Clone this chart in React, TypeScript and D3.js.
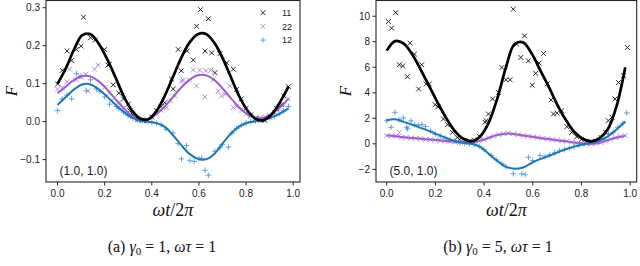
import React from "react";
import * as d3 from "d3";

// phase grid used by the fitted curves
const phase = [0, 0.035, 0.07, 0.105, 0.14, 0.175, 0.21, 0.245, 0.28, 0.315, 0.35, 0.385, 0.42, 0.455, 0.49,
  0.525, 0.56, 0.595, 0.63, 0.665, 0.7, 0.735, 0.77, 0.805, 0.84, 0.875, 0.91, 0.945, 0.98];

// (a) gamma0 = 1 : fitted curves
const fitA11 = [0.1, 0.14, 0.19, 0.228, 0.23, 0.205, 0.165, 0.118, 0.068, 0.03, 0.008, 0.006, 0.028, 0.068, 0.118,
  0.168, 0.208, 0.23, 0.231, 0.208, 0.168, 0.118, 0.068, 0.03, 0.008, 0.004, 0.02, 0.052, 0.092];
const fitA22 = [0.075, 0.092, 0.11, 0.12, 0.119, 0.106, 0.085, 0.06, 0.036, 0.016, 0.005, 0.006, 0.02, 0.04, 0.065,
  0.09, 0.11, 0.122, 0.122, 0.11, 0.088, 0.062, 0.038, 0.02, 0.01, 0.01, 0.02, 0.038, 0.06];
const fitA12 = [0.044, 0.065, 0.085, 0.098, 0.098, 0.085, 0.066, 0.045, 0.026, 0.011, 0.003, 0.0, -0.004, -0.014, -0.036,
  -0.062, -0.085, -0.098, -0.099, -0.085, -0.058, -0.032, -0.013, -0.003, 0.001, 0.005, 0.012, 0.022, 0.035];

// (b) gamma0 = 5 : fitted curves
const fitB11 = [7.3, 8.05, 7.85, 7.0, 5.8, 4.5, 3.2, 2.0, 1.0, 0.4, 0.2, 0.6, 1.7, 3.6, 6.0,
  7.8, 7.95, 7.1, 5.8, 4.5, 3.1, 1.9, 0.95, 0.4, 0.2, 0.45, 1.2, 3.0, 6.0];
const fitB22 = [0.65, 0.6, 0.52, 0.46, 0.4, 0.34, 0.29, 0.22, 0.15, 0.12, 0.13, 0.25, 0.48, 0.7, 0.8,
  0.76, 0.66, 0.56, 0.46, 0.37, 0.28, 0.2, 0.1, 0.03, 0.0, 0.08, 0.3, 0.5, 0.62];
const fitB12 = [1.85, 1.92, 1.72, 1.5, 1.25, 1.0, 0.72, 0.45, 0.22, 0.08, 0.0, -0.25, -0.8, -1.35, -1.8,
  -1.95, -1.85, -1.5, -1.2, -0.95, -0.68, -0.42, -0.22, -0.05, 0.1, 0.25, 0.6, 1.15, 1.75];

// simulated points [phase, F]
const ptsA11 = [[0, 0.099], [0.02, 0.135], [0.04, 0.186], [0.06, 0.161], [0.08, 0.19], [0.1, 0.199], [0.11, 0.275],
  [0.14, 0.221], [0.16, 0.215], [0.2, 0.19], [0.214, 0.149], [0.22, 0.151], [0.236, 0.097], [0.26, 0.075], [0.28, 0.06],
  [0.3, 0.046], [0.306, 0.029], [0.32, 0.018], [0.34, 0.005], [0.36, 0.003], [0.38, 0.002], [0.4, 0.012], [0.42, 0.029],
  [0.44, 0.04], [0.455, 0.05], [0.484, 0.112], [0.491, 0.086], [0.512, 0.19], [0.525, 0.134], [0.55, 0.186], [0.576, 0.162],
  [0.59, 0.251], [0.607, 0.295], [0.626, 0.186], [0.64, 0.271], [0.654, 0.181], [0.668, 0.129], [0.689, 0.179],
  [0.718, 0.155], [0.746, 0.138], [0.76, 0.085], [0.78, 0.06], [0.8, 0.035], [0.82, 0.018], [0.84, 0.008], [0.86, 0.004],
  [0.88, 0.003], [0.9, 0.012], [0.93, 0.034], [0.95, 0.045], [0.96, 0.068], [0.98, 0.092]];
const ptsA22 = [[0, 0.085], [0.02, 0.09], [0.04, 0.105], [0.051, 0.138], [0.08, 0.11], [0.1, 0.118], [0.12, 0.125],
  [0.129, 0.081], [0.157, 0.138], [0.172, 0.149], [0.2, 0.09], [0.22, 0.075], [0.24, 0.062], [0.26, 0.05], [0.28, 0.036],
  [0.3, 0.025], [0.32, 0.014], [0.34, 0.007], [0.36, 0.004], [0.38, 0.006], [0.4, 0.012], [0.42, 0.02], [0.44, 0.03],
  [0.462, 0.037], [0.48, 0.055], [0.498, 0.068], [0.526, 0.107], [0.533, 0.109], [0.56, 0.11], [0.576, 0.136],
  [0.59, 0.094], [0.604, 0.135], [0.626, 0.065], [0.63, 0.134], [0.65, 0.135], [0.66, 0.11], [0.682, 0.081],
  [0.696, 0.068], [0.71, 0.072], [0.732, 0.094], [0.746, 0.037], [0.76, 0.04], [0.78, 0.03], [0.8, 0.02], [0.82, 0.014],
  [0.84, 0.01], [0.86, 0.01], [0.88, 0.012], [0.9, 0.016], [0.92, 0.025], [0.94, 0.035], [0.96, 0.045], [0.98, 0.06]];
const ptsA12 = [[0, 0.029], [0.02, 0.06], [0.04, 0.07], [0.06, 0.06], [0.08, 0.126], [0.1, 0.12], [0.122, 0.081],
  [0.14, 0.11], [0.165, 0.086], [0.18, 0.08], [0.2, 0.065], [0.221, 0.046], [0.25, 0.04], [0.26, 0.035], [0.28, 0.025],
  [0.3, 0.016], [0.32, 0.009], [0.34, 0.004], [0.36, 0.002], [0.38, 0.0], [0.4, -0.002], [0.42, -0.004], [0.44, -0.008],
  [0.46, -0.02], [0.49, -0.03], [0.512, -0.058], [0.526, -0.098], [0.547, -0.063], [0.562, -0.102], [0.58, -0.105],
  [0.6, -0.097], [0.612, -0.096], [0.626, -0.128], [0.64, -0.141], [0.668, -0.078], [0.689, -0.069], [0.7, -0.06],
  [0.725, -0.067], [0.74, -0.03], [0.76, -0.018], [0.78, -0.01], [0.8, -0.004], [0.82, 0.0], [0.84, 0.002], [0.86, 0.004],
  [0.88, 0.006], [0.9, 0.01], [0.92, 0.014], [0.94, 0.02], [0.96, 0.028], [0.98, 0.04]];

const ptsB11 = [[0.007, 9.58], [0.02, 9.06], [0.037, 10.28], [0.052, 6.2], [0.066, 6.1], [0.085, 5.26], [0.096, 7.89],
  [0.114, 7.03], [0.131, 4.3], [0.144, 6.2], [0.162, 4.69], [0.175, 4.69], [0.199, 3.07], [0.21, 2.9], [0.233, 1.95],
  [0.25, 1.5], [0.27, 0.9], [0.29, 0.5], [0.3, 0.35], [0.32, 0.25], [0.34, 0.2], [0.36, 0.3], [0.38, 0.6], [0.404, 1.69],
  [0.408, 1.82], [0.418, 2.34], [0.435, 3.52], [0.459, 4.03], [0.473, 5.98], [0.49, 5.02], [0.507, 5.02], [0.52, 10.55],
  [0.534, 7.81], [0.551, 6.77], [0.566, 8.46], [0.582, 6.5], [0.598, 4.6], [0.612, 5.52], [0.626, 6.33], [0.644, 7.08],
  [0.66, 4.7], [0.675, 3.44], [0.685, 2.34], [0.7, 2.4], [0.719, 2.6], [0.74, 1.35], [0.76, 0.9], [0.78, 0.55],
  [0.8, 0.35], [0.82, 0.2], [0.84, 0.15], [0.86, 0.2], [0.88, 0.5], [0.9, 0.9], [0.91, 1.82], [0.925, 2.08],
  [0.938, 3.52], [0.952, 4.8], [0.973, 5.34], [0.989, 7.55]];
const ptsB22 = [[0, 0.65], [0.02, 0.62], [0.04, 0.6], [0.052, 0.9], [0.06, 0.5], [0.08, 0.5], [0.1, 0.45], [0.12, 0.42],
  [0.14, 0.4], [0.16, 0.36], [0.18, 0.34], [0.2, 0.3], [0.22, 0.27], [0.24, 0.22], [0.26, 0.18], [0.28, 0.15], [0.3, 0.13],
  [0.32, 0.11], [0.34, 0.12], [0.36, 0.15], [0.38, 0.22], [0.4, 0.33], [0.42, 0.48], [0.44, 0.6], [0.46, 0.72],
  [0.48, 0.8], [0.5, 0.85], [0.52, 0.78], [0.54, 0.72], [0.56, 0.66], [0.58, 0.6], [0.6, 0.55], [0.62, 0.5], [0.64, 0.44],
  [0.66, 0.38], [0.68, 0.33], [0.7, 0.28], [0.72, 0.24], [0.74, 0.2], [0.76, 0.13], [0.78, 0.08], [0.8, 0.04],
  [0.82, 0.01], [0.84, 0.0], [0.86, 0.03], [0.88, 0.1], [0.9, 0.22], [0.92, 0.35], [0.94, 0.48], [0.96, 0.57], [0.98, 0.65]];
const ptsB12 = [[0, 1.8], [0.018, 1.3], [0.034, 2.47], [0.05, 1.9], [0.068, 2.03], [0.082, 1.3], [0.086, 1.17],
  [0.1, 1.8], [0.115, 1.5], [0.13, 1.45], [0.145, 1.5], [0.16, 1.35], [0.18, 1.0], [0.2, 0.75], [0.22, 0.6], [0.24, 0.45],
  [0.26, 0.3], [0.28, 0.2], [0.3, 0.1], [0.32, 0.05], [0.34, 0.0], [0.36, -0.05], [0.38, -0.2], [0.4, -0.45],
  [0.429, -0.91], [0.45, -1.25], [0.473, -1.56], [0.49, -1.8], [0.52, -2.34], [0.555, -2.35], [0.569, -2.42],
  [0.582, -1.05], [0.6, -1.3], [0.63, -0.91], [0.65, -1.0], [0.67, -0.85], [0.69, -0.7], [0.71, -0.55], [0.73, -0.45],
  [0.75, -0.35], [0.77, -0.2], [0.79, -0.1], [0.81, 0.0], [0.83, 0.05], [0.85, 0.15], [0.87, 0.2], [0.89, 0.35],
  [0.911, 0.78], [0.93, 0.9], [0.95, 1.3], [0.97, 1.6], [0.986, 2.42]];

const xTicks = [0, 0.2, 0.4, 0.6, 0.8, 1.0];
const yTicksA = [-0.1, 0, 0.1, 0.2, 0.3];
const yTicksB = [-2, 0, 2, 4, 6, 8, 10];
const legendNames = ["11", "22", "12"];

const BLACK = "#000";
const PURPLE = "#9b5fcf";
const BLUE = "#1f77b4";
const BLUE_PT = "#3d8fd1";
const AXIS = "#262626";
const SANS = "Liberation Sans, Arial, sans-serif";
const SERIF = "Liberation Serif, Times New Roman, DejaVu Serif, serif";

const cross = "M-2.4,-2.4L2.4,2.4M-2.4,2.4L2.4,-2.4";
const plus = "M-2.8,0H2.8M0,-2.8V2.8";

const Panel = ({ left, right, xDom, yDom, yTicks, yFmt, fits, pts, note, legend }) => {
  const top = 0.5, bottom = 182;
  const x = d3.scaleLinear().domain(xDom).range([left, right]);
  const y = d3.scaleLinear().domain(yDom).range([bottom, top]);
  const line = d3.line().x((_, i) => x(phase[i])).y(d => y(d)).curve(d3.curveCatmullRom);
  const xFmt = d3.format(".1f");
  const styles = [
    { c: BLACK, m: cross, w: 2.7, pc: "#111", op: 0.9 },
    { c: PURPLE, m: cross, w: 2, pc: PURPLE, op: 0.7 },
    { c: BLUE, m: plus, w: 2, pc: BLUE_PT, op: 0.8 },
  ];
  const cx = (left + right) / 2;
  return (
    <g>
      {pts.map((s, k) => (
        <g key={"p" + k}>
          {s.map((d, i) => (
            <path key={i} d={styles[k].m} transform={`translate(${x(d[0])},${y(d[1])})`}
              stroke={styles[k].pc} strokeWidth={1} opacity={styles[k].op} fill="none" />
          ))}
        </g>
      ))}
      {[1, 2, 0].map(k => (
        <path key={"l" + k} d={line(fits[k])} fill="none" stroke={styles[k].c} strokeWidth={styles[k].w} />
      ))}
      <rect x={left} y={top} width={right - left} height={bottom - top} fill="none" stroke={AXIS} strokeWidth={1.1} />
      {xTicks.map(t => (
        <g key={"x" + t} transform={`translate(${x(t)},${bottom})`}>
          <line y2={3.5} stroke={AXIS} />
          <text y={15} textAnchor="middle" fontSize={10} style={{ fontFamily: SANS }} fill="#222">{xFmt(t)}</text>
        </g>
      ))}
      {yTicks.map(t => (
        <g key={"y" + t} transform={`translate(${left},${y(t)})`}>
          <line x2={-3.5} stroke={AXIS} />
          <text x={-6} dy="0.35em" textAnchor="end" fontSize={10} style={{ fontFamily: SANS }} fill="#222">{yFmt(t)}</text>
        </g>
      ))}
      <text x={left + 13.5} y={175} fontSize={12} style={{ fontFamily: SANS }} fill="#222">{note}</text>
      <text x={cx} y={216} textAnchor="middle" fontSize={18} style={{ fontFamily: SERIF }} fill="#111">
        <tspan fontStyle="italic">ωt</tspan>/2<tspan fontStyle="italic">π</tspan>
      </text>
      {legend && legendNames.map((n, k) => (
        <g key={n} transform={`translate(${right - 37},${12.7 + k * 13.7})`}>
          <path d={styles[k].m} stroke={styles[k].pc} strokeWidth={1} opacity={styles[k].op} fill="none" />
          <text x={19} dy="0.35em" fontSize={9} style={{ fontFamily: SANS }} fill="#222">{n}</text>
        </g>
      ))}
    </g>
  );
};

const Caption = ({ cx, tag, g0 }) => (
  <text x={cx} y={252} textAnchor="middle" fontSize={16} style={{ fontFamily: SERIF }} fill="#111">
    ({tag}) <tspan fontStyle="italic">γ</tspan><tspan fontSize={11} dy={3}>0</tspan>
    <tspan dy={-3}> = {g0}, </tspan><tspan fontStyle="italic">ωτ</tspan> = 1
  </text>
);

const YLabel = ({ x, y }) => (
  <text transform={`translate(${x},${y}) rotate(-90)`} textAnchor="middle" fontSize={17}
    style={{ fontFamily: SERIF }} fontStyle="italic" fill="#111">F</text>
);

export default function App() {
  return (
    <svg width={640} height={266} style={{ position: "absolute", left: 0, top: 0, background: "#fff" }}>
      <Panel left={46} right={300} xDom={[-0.049, 1.029]} yDom={[-0.159, 0.319]} yTicks={yTicksA}
        yFmt={d3.format(".1f")} fits={[fitA11, fitA22, fitA12]} pts={[ptsA11, ptsA22, ptsA12]}
        note="(1.0, 1.0)" legend />
      <Panel left={376} right={636.7} xDom={[-0.044, 1.027]} yDom={[-2.99, 11.23]} yTicks={yTicksB}
        yFmt={d3.format("d")} fits={[fitB11, fitB22, fitB12]} pts={[ptsB11, ptsB22, ptsB12]}
        note="(5.0, 1.0)" legend={false} />
      <YLabel x={17} y={91} />
      <YLabel x={351} y={91} />
      <Caption cx={162} tag="a" g0={1} />
      <Caption cx={498} tag="b" g0={5} />
    </svg>
  );
}
